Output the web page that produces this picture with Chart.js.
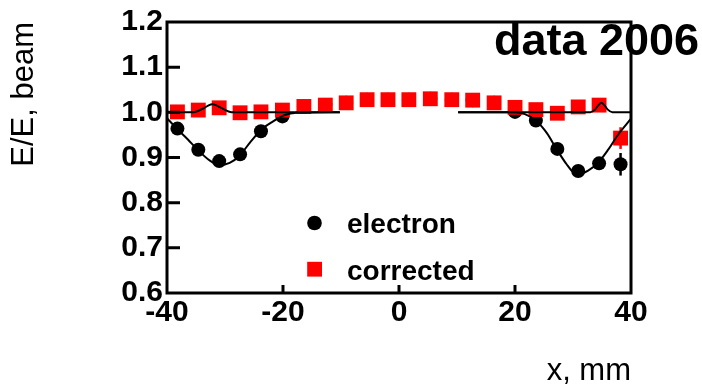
<!DOCTYPE html>
<html>
<head>
<meta charset="utf-8">
<title>E/E beam vs x</title>
<script src="https://cdn.jsdelivr.net/npm/chart.js@4/dist/chart.umd.min.js"></script>
<style>
  html, body { margin: 0; padding: 0; background: #fff; }
  canvas { display: block; }
</style>
</head>
<body>
<canvas id="chart" width="702" height="389"></canvas>
<script>
// scan positions (mm)
const xPos = [-38.2, -34.6, -31.0, -27.4, -23.8, -20.1, -16.4, -12.7, -9.1, -5.5, -1.9,
              1.7, 5.4, 9.1, 12.7, 16.4, 20.0, 23.6, 27.3, 30.9, 34.5, 38.2];

const electron    = [0.964, 0.917, 0.892, 0.907, 0.958, 0.991, 1.013, 1.016, 1.021, 1.028, 1.028,
                     1.028, 1.030, 1.028, 1.027, 1.021, 1.001, 0.982, 0.919, 0.870, 0.887, 0.885];
const electronErr = [0.003, 0.003, 0.003, 0.003, 0.003, 0.003, 0.003, 0.003, 0.003, 0.003, 0.003,
                     0.003, 0.003, 0.003, 0.003, 0.003, 0.003, 0.003, 0.003, 0.003, 0.004, 0.025];

const corrected    = [1.001, 1.005, 1.010, 0.999, 1.001, 1.005, 1.013, 1.016, 1.021, 1.028, 1.028,
                      1.028, 1.030, 1.028, 1.027, 1.021, 1.011, 1.006, 0.998, 1.012, 1.016, 0.943];
const correctedErr = [0.003, 0.003, 0.003, 0.003, 0.003, 0.003, 0.003, 0.003, 0.003, 0.003, 0.003,
                      0.003, 0.003, 0.003, 0.003, 0.003, 0.003, 0.003, 0.003, 0.003, 0.004, 0.024];

// fitted curves, left and right halves
const elFitLeftX  = [-40, -38.4, -36.4, -34.7, -32.6, -30.9, -29.2, -27.5, -25.7, -23.7, -21.7, -19.7, -17.7, -10.2];
const elFitLeftY  = [0.987, 0.965, 0.940, 0.917, 0.893, 0.883, 0.888, 0.904, 0.933, 0.962, 0.980, 0.994, 0.999, 1.0];
const elFitRightX = [10.2, 20.0, 21.7, 23.6, 25.5, 27.2, 28.9, 30.1, 31.2, 32.6, 34.3, 36.1, 37.8, 40];
const elFitRightY = [1.0, 1.0, 0.996, 0.982, 0.954, 0.918, 0.885, 0.867, 0.864, 0.871, 0.888, 0.918, 0.951, 0.986];

const corrFitLeftX  = [-40, -35.8, -34.9, -33.8, -32.9, -32.2, -31.4, -30.4, -29.4, -28.4, -10.2];
const corrFitLeftY  = [1.0, 1.0, 1.002, 1.008, 1.015, 1.018, 1.015, 1.008, 1.002, 1.0, 1.0];
const corrFitRightX = [10.2, 33.0, 33.8, 34.4, 34.9, 35.4, 36.0, 36.8, 40];
const corrFitRightY = [1.0, 1.0, 1.006, 1.016, 1.021, 1.016, 1.006, 1.0, 1.0];

const yTicks = [0.6, 0.7, 0.8, 0.9, 1.0, 1.1, 1.2];
const xTicks = [-40, -20, 0, 20, 40];

const FONT = '"Liberation Sans", Arial, Helvetica, sans-serif';
const RED = '#ff0000';

const pts = (xs, ys) => xs.map((x, i) => ({ x: x, y: ys[i] }));

function fitLine(xs, ys) {
    return {
        data: pts(xs, ys),
        showLine: true,
        borderColor: '#000',
        borderWidth: 2,
        pointRadius: 0,
        cubicInterpolationMode: 'monotone',
        order: 0
    };
}

const decor = {
    id: 'decor',
    beforeDatasetsDraw(chart) {
        // vertical error bars, drawn under the markers
        const { ctx, scales: { x, y } } = chart;
        ctx.save();
        ctx.lineWidth = 2.5;
        [[electron, electronErr, '#000'], [corrected, correctedErr, RED]].forEach(([vals, errs, col]) => {
            ctx.strokeStyle = col;
            vals.forEach((v, i) => {
                const px = x.getPixelForValue(xPos[i]);
                ctx.beginPath();
                ctx.moveTo(px, y.getPixelForValue(v - errs[i]));
                ctx.lineTo(px, y.getPixelForValue(v + errs[i]));
                ctx.stroke();
            });
        });
        ctx.restore();
    },
    afterDraw(chart) {
        const { ctx, chartArea: a, scales: { x, y } } = chart;
        ctx.save();

        // frame + inward ticks
        ctx.strokeStyle = '#000';
        ctx.lineWidth = 3;
        ctx.strokeRect(a.left, a.top, a.right - a.left, a.bottom - a.top);
        ctx.beginPath();
        yTicks.slice(1, -1).forEach(v => {
            const py = y.getPixelForValue(v);
            ctx.moveTo(a.left, py);
            ctx.lineTo(a.left + 13, py);
        });
        xTicks.slice(1, -1).forEach(v => {
            const px = x.getPixelForValue(v);
            ctx.moveTo(px, a.bottom);
            ctx.lineTo(px, a.bottom - 8);
        });
        ctx.stroke();

        // legend
        ctx.fillStyle = '#000';
        ctx.beginPath();
        ctx.arc(314.5, 223, 7.3, 0, Math.PI * 2);
        ctx.fill();
        ctx.fillStyle = RED;
        ctx.fillRect(307.2, 261.8, 14.8, 14.8);

        ctx.fillStyle = '#000';
        ctx.textAlign = 'left';
        ctx.textBaseline = 'alphabetic';
        ctx.font = 'bold 28px ' + FONT;
        ctx.fillText('electron', 347, 233);
        ctx.fillText('corrected', 347, 280);

        ctx.font = 'bold 45px ' + FONT;
        ctx.fillText('data 2006', 494, 55);
        ctx.restore();
    }
};

new Chart(document.getElementById('chart'), {
    type: 'scatter',
    data: {
        datasets: [
            {
                label: 'electron',
                data: pts(xPos, electron),
                pointStyle: 'circle',
                pointRadius: 7,
                backgroundColor: '#000',
                borderWidth: 0,
                order: 3
            },
            {
                label: 'corrected',
                data: pts(xPos, corrected),
                pointStyle: 'rect',
                pointRadius: 10.5,
                backgroundColor: RED,
                borderWidth: 0,
                order: 2
            },
            fitLine(elFitLeftX, elFitLeftY),
            fitLine(elFitRightX, elFitRightY),
            fitLine(corrFitLeftX, corrFitLeftY),
            fitLine(corrFitRightX, corrFitRightY)
        ]
    },
    options: {
        responsive: false,
        animation: false,
        events: [],
        layout: { padding: { top: 17, right: 71, left: 0, bottom: 0 } },
        plugins: { legend: { display: false }, tooltip: { enabled: false } },
        scales: {
            x: {
                type: 'linear',
                min: -40,
                max: 40,
                afterFit: s => { s.height = 96; },
                afterBuildTicks: s => { s.ticks = xTicks.map(v => ({ value: v })); },
                grid: { display: false, drawTicks: false },
                border: { display: false },
                ticks: {
                    color: '#000',
                    padding: 2,
                    maxRotation: 0,
                    autoSkip: false,
                    font: { family: FONT, size: 30, weight: 'bold' }
                },
                title: {
                    display: true,
                    text: 'x, mm',
                    align: 'end',
                    color: '#000',
                    padding: 0,
                    font: { family: FONT, size: 31, lineHeight: 1.1 }
                }
            },
            y: {
                type: 'linear',
                min: 0.6,
                max: 1.2,
                afterFit: s => { s.width = 167; },
                afterBuildTicks: s => { s.ticks = yTicks.map(v => ({ value: v })); },
                grid: { display: false, drawTicks: false },
                border: { display: false },
                ticks: {
                    color: '#000',
                    padding: 4,
                    autoSkip: false,
                    callback: v => v.toFixed(1),
                    font: { family: FONT, size: 30, weight: 'bold' }
                },
                title: {
                    display: true,
                    text: 'E/E, beam',
                    align: 'end',
                    color: '#000',
                    padding: { top: 7, bottom: 0 },
                    font: { family: FONT, size: 31, lineHeight: 1.1 }
                }
            }
        }
    },
    plugins: [decor]
});
</script>
</body>
</html>
